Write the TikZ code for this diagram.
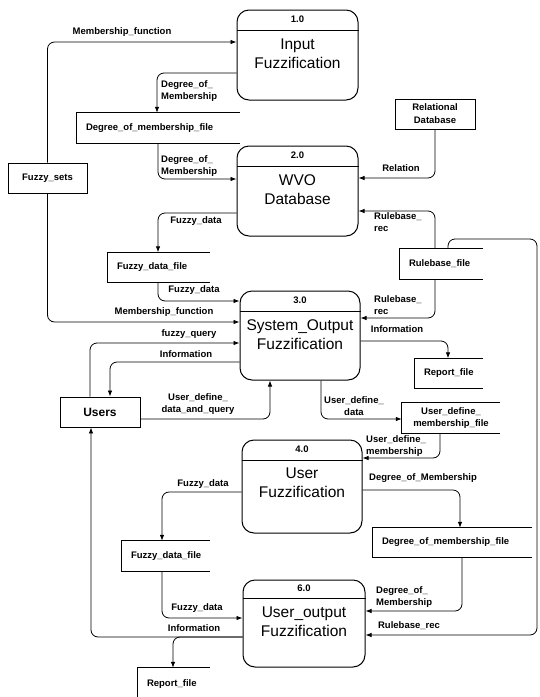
\documentclass[tikz,border=0pt]{standalone}
\usepackage{fontspec}
\setmainfont{Liberation Sans}
\usepackage{tikz}
\usetikzlibrary{positioning, arrows.meta, calc}

\begin{document}
\begin{tikzpicture}[x=1pt, y=-1pt,
  lbl/.style={font=\fontsize{9.5}{12.5}\selectfont\bfseries, inner sep=0pt, align=left},
  proc/.style={rectangle, draw, line width=1pt, rounded corners=12pt,
             minimum width=121pt, minimum height=90pt},
  pnum/.style={font=\fontsize{9.5}{11}\selectfont\bfseries, minimum height=20pt, inner sep=0pt},
  ptitle/.style={font=\fontsize{15.5}{18.5}\selectfont, align=center, inner sep=0pt},
  ent/.style={rectangle, draw, line width=0.9pt, minimum height=30pt, inner sep=2pt,
             align=center, font=\fontsize{9.5}{13}\selectfont\bfseries},
  store/.style={rectangle, minimum height=30pt, inner xsep=9pt, inner ysep=0pt,
             align=left, font=\fontsize{9.5}{12.5}\selectfont\bfseries},
  flow/.style={line width=0.8pt, rounded corners=7pt, -{Latex[length=6pt,width=4.5pt]}},
]
\useasboundingbox (0,0) rectangle (540,697);

% ---- processes ----
\node[proc] (p1) at (297.5,55) {};
\node[pnum, below=0pt of p1.north] (n1) {1.0};
\node[ptitle, below=9pt of n1] (t1) {Input\\Fuzzification};

\node[proc] (p2) at (297.5,191) {};
\node[pnum, below=0pt of p2.north] (n2) {2.0};
\node[ptitle, below=9pt of n2] (t2) {WVO\\Database};

\node[proc, minimum width=120pt, minimum height=89pt] (p3) at (300,335.5) {};
\node[pnum, below=0pt of p3.north] (n3) {3.0};
\node[ptitle, below=9pt of n3] (t3) {System\_Output\\Fuzzification};

\node[proc, minimum width=120pt, minimum height=93pt] (p4) at (302,486.5) {};
\node[pnum, below=0pt of p4.north] (n4) {4.0};
\node[ptitle, below=8pt of n4] (t4) {User\\Fuzzification};

\node[proc, minimum width=122pt, minimum height=87pt] (p6) at (304,623.5) {};
\node[pnum, below=0pt of p6.north, minimum height=18pt] (n6) {6.0};
\node[ptitle, below=9pt of n6] (t6) {User\_output\\Fuzzification};

\foreach \i in {1,2,3,4,6}
  \draw[line width=0.8pt] (p\i.west |- n\i.south) -- (p\i.east |- n\i.south);

% ---- external entities ----
\node[ent, minimum width=79pt] (fsets) at (47.5,178) {Fuzzy\_sets};
\node[ent, minimum width=80pt] (reldb) at (435,114) {Relational\\Database};
\node[ent, minimum width=80pt, font=\fontsize{12}{14}\selectfont\bfseries] (users) at (100,412) {Users};

% ---- data stores (open on the right) ----
\node[store, text width=145pt] (dmf1) at (158.5,128) {Degree\_of\_membership\_file};
\node[store, text width=84pt] (fdf1) at (159,267.5) {Fuzzy\_data\_file};
\node[store, text width=65pt] (rbf) at (441.5,264) {Rulebase\_file};
\node[store, text width=50pt] (rpf1) at (449,373.5) {Report\_file};
\node[store, text width=84pt, inner xsep=7pt, align=center] (udmf) at (451,418) {User\_define\_\\membership\_file};
\node[store, text width=70pt] (fdf2) at (166,556) {Fuzzy\_data\_file};
\node[store, text width=141pt, minimum height=29pt] (dmf2) at (452.5,542.5) {Degree\_of\_membership\_file};
\node[store, text width=54pt, minimum height=32pt] (rpf2) at (174,684) {Report\_file};

\foreach \s in {dmf1,fdf1,rbf,rpf1,udmf,fdf2,dmf2,rpf2}
  \draw[line width=0.9pt] (\s.north east) -- (\s.north west) -- (\s.south west) -- (\s.south east);

% ---- flows ----
\draw[flow] (fsets.north) |- (p1.west |- 0,42);
\node[lbl] (l1) at (122,32) {Membership\_function};
\draw[flow] (p1.west |- 0,73) -| (dmf1.north -| 157,0);
\node[lbl, anchor=west] (l2) at (161,91) {Degree\_of\_\\Membership};
\draw[flow] (dmf1.south -| 158,0) |- (p2.west |- 0,179);
\node[lbl, anchor=west] (l3) at (161,166) {Degree\_of\_\\Membership};
\draw[flow] (reldb.south) |- (p2.east |- 0,178);
\node[lbl] (l4) at (401,168) {Relation};
\draw[flow] (rbf.north -| 435,0) |- (p2.east |- 0,211);
\node[lbl, anchor=west] (l5) at (374,222) {Rulebase\_\\rec};
\draw[flow] (p2.west |- 0,213) -| (fdf1.north -| 158,0);
\node[lbl] (l6) at (196,221) {Fuzzy\_data};
\draw[flow] (fdf1.south -| 158,0) |- (p3.west |- 0,301);
\node[lbl] (l7) at (194,290) {Fuzzy\_data};
\draw[flow] (fsets.south) |- (p3.west |- 0,322);
\node[lbl] (l8) at (164,312) {Membership\_function};
\draw[flow] (rbf.south -| 435,0) |- (p3.east |- 0,318);
\node[lbl, anchor=west] (l9) at (374,305) {Rulebase\_\\rec};
\draw[flow] (p3.east |- 0,341) -| (rpf1.north -| 448,0);
\node[lbl] (l10) at (397,329) {Information};
\draw[flow] (users.north -| 90,0) |- (p3.west |- 0,343);
\node[lbl] (l11) at (189,334) {fuzzy\_query};
\draw[flow] (p3.west |- 0,362) -| (users.north -| 110,0);
\node[lbl] (l12) at (186,354) {Information};
\draw[flow] (users.east |- 0,419) -| (p3.south -| 270,0);
\node[lbl, align=center] (l13) at (198,404) {User\_define\_\\data\_and\_query};
\draw[flow] (p3.south -| 321,0) |- (udmf.west |- 0,419);
\node[lbl, align=center] (l14) at (354,406) {User\_define\_\\data};
\draw[flow] (udmf.south -| 440,0) |- (p4.east |- 0,458);
\node[lbl, anchor=west] (l15) at (366,446) {User\_define\_\\membership};
\draw[flow] (p4.east |- 0,490) -| (dmf2.north -| 460,0);
\node[lbl] (l16) at (423,478) {Degree\_of\_Membership};
\draw[flow] (p4.west |- 0,492) -| (fdf2.north -| 162,0);
\node[lbl] (l17) at (203,484) {Fuzzy\_data};
\draw[flow] (dmf2.south -| 462,0) |- (p6.east |- 0,611);
\node[lbl, anchor=west] (l18) at (376,597) {Degree\_of\_\\Membership};
\draw[flow] (rbf.north -| 448,0) |- (537,239) -- (537,635) -- (p6.east |- 0,635);
\node[lbl] (l19) at (409,626) {Rulebase\_rec};
\draw[flow] (fdf2.south -| 162,0) |- (p6.west |- 0,618);
\node[lbl] (l20) at (197,608) {Fuzzy\_data};
\draw[flow] (p6.west |- 0,637) -| (users.south -| 91,0);
\draw[flow] (p6.west |- 0,637) -| (rpf2.north -| 173,0);
\node[lbl] (l21) at (194,628) {Information};

\end{tikzpicture}
\end{document}
